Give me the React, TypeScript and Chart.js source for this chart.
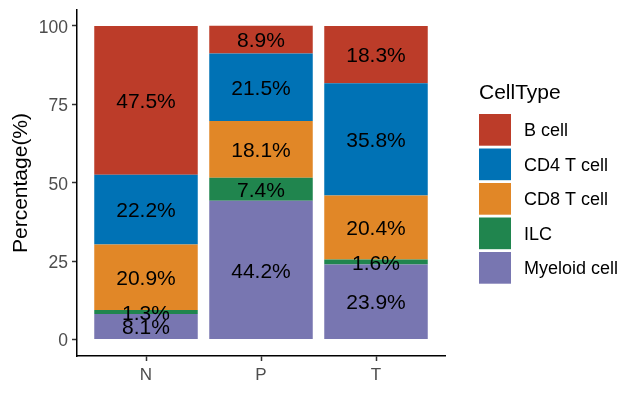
import React, { useEffect, useRef } from "react";
import { Chart, registerables } from "chart.js";

Chart.register(...registerables);

const FONT = '"Liberation Sans", Arial, sans-serif';

const categories = ["N", "P", "T"];
const cellTypes = ["Myeloid cell", "ILC", "CD8 T cell", "CD4 T cell", "B cell"];
const myeloid = [8.1, 44.2, 23.9];
const ilc = [1.3, 7.4, 1.6];
const cd8 = [20.9, 18.1, 20.4];
const cd4 = [22.2, 21.5, 35.8];
const bcell = [47.5, 8.9, 18.3];
const colors = ["#7876B1", "#20854E", "#E18727", "#0072B5", "#BC3C29"];
const yTicks = [0, 25, 50, 75, 100];
const seriesValues = [myeloid, ilc, cd8, cd4, bcell];

const valueLabels = {
  id: "valueLabels",
  afterDatasetsDraw(chart: any) {
    const ctx = chart.ctx;
    ctx.save();
    ctx.font = `21px ${FONT}`;
    ctx.fillStyle = "#000000";
    ctx.textAlign = "center";
    ctx.textBaseline = "middle";
    chart.data.datasets.forEach((ds: any, i: number) => {
      const meta = chart.getDatasetMeta(i);
      meta.data.forEach((el: any, j: number) => {
        const v = ds.data[j].y as number;
        const p = el.getProps(["x", "y", "base"], true);
        ctx.fillText(v.toFixed(1) + "%", p.x, (p.y + p.base) / 2 + 2);
      });
    });
    ctx.restore();
  },
};

const sideLegend = {
  id: "sideLegend",
  afterDraw(chart: any, _args: any, opts: any) {
    const ctx = chart.ctx;
    ctx.save();
    ctx.textAlign = "left";
    ctx.textBaseline = "middle";
    ctx.fillStyle = "#000000";
    ctx.font = `21px ${FONT}`;
    ctx.fillText(opts.title, opts.x, opts.titleY);
    const items = chart.data.datasets
      .map((d: any) => ({ label: d.label, color: d.backgroundColor }))
      .reverse();
    items.forEach((it: any, k: number) => {
      const top = opts.top + k * opts.pitch;
      ctx.fillStyle = it.color;
      ctx.fillRect(opts.x, top, opts.boxW, opts.boxH);
      ctx.fillStyle = "#000000";
      ctx.font = `18px ${FONT}`;
      ctx.fillText(it.label, opts.textX, top + opts.boxH / 2 + 1.5);
    });
    ctx.restore();
  },
};

export default function App() {
  const canvasRef = useRef<HTMLCanvasElement | null>(null);

  useEffect(() => {
    if (!canvasRef.current) return;
    Chart.defaults.font.family = FONT;
    const datasets = cellTypes.map((name, i) => ({
      label: name,
      data: categories.map((_, j) => ({ x: j + 1, y: seriesValues[i][j] })),
      backgroundColor: colors[i],
      borderWidth: 0,
      categoryPercentage: 0.9,
      barPercentage: 1,
    }));
    const chart = new Chart(canvasRef.current, {
      type: "bar",
      data: { datasets },
      plugins: [valueLabels, sideLegend],
      options: {
        responsive: false,
        animation: false,
        devicePixelRatio: 1,
        layout: { padding: { left: 0, right: 195, top: 10, bottom: 0 } },
        scales: {
          x: {
            type: "linear",
            min: 0.4,
            max: 3.6,
            offset: false,
            stacked: true,
            afterBuildTicks: (s: any) => {
              s.ticks = categories.map((_, i) => ({ value: i + 1 }));
            },
            afterFit: (s: any) => {
              s.height = 39;
              s.paddingLeft = 0;
              s.paddingRight = 0;
              s.paddingTop = 0;
              s.paddingBottom = 0;
            },
            ticks: {
              autoSkip: false,
              maxRotation: 0,
              padding: 4,
              color: "#4D4D4D",
              font: { size: 17, family: FONT },
              callback: (v: any) => categories[Math.round(Number(v)) - 1] ?? "",
            },
            grid: {
              display: true,
              offset: false,
              drawOnChartArea: false,
              drawTicks: true,
              tickLength: 5,
              tickColor: "#333333",
              tickWidth: 1.5,
            },
            border: { display: true, color: "#000000", width: 1.5 },
          },
          y: {
            type: "linear",
            min: -5.3,
            max: 105.1,
            stacked: true,
            afterBuildTicks: (s: any) => {
              s.ticks = yTicks.map((v) => ({ value: v }));
            },
            afterFit: (s: any) => {
              s.width = 77;
              s.paddingLeft = 0;
              s.paddingRight = 0;
              s.paddingTop = 0;
              s.paddingBottom = 0;
            },
            ticks: {
              padding: 4,
              labelOffset: 2,
              color: "#4D4D4D",
              font: { size: 17.5, family: FONT },
              callback: (v: any) => String(v),
            },
            grid: {
              display: true,
              drawOnChartArea: false,
              drawTicks: true,
              tickLength: 5,
              tickColor: "#333333",
              tickWidth: 1.5,
            },
            border: { display: true, color: "#000000", width: 1.5 },
            title: {
              display: true,
              text: "Percentage(%)",
              color: "#000000",
              font: { size: 21, family: FONT },
              padding: { top: 8.5, bottom: 0 },
            },
          },
        },
        plugins: {
          legend: { display: false },
          tooltip: { enabled: false },
          sideLegend: {
            title: "CellType",
            x: 479,
            titleY: 93,
            top: 114,
            pitch: 34.5,
            boxW: 32,
            boxH: 31.7,
            textX: 524,
          },
        } as any,
      },
    } as any);
    return () => chart.destroy();
  }, []);

  return (
    <div style={{ position: "absolute", left: 0, top: 0, width: 640, height: 395, background: "#ffffff" }}>
      <canvas ref={canvasRef} width={640} height={395} />
    </div>
  );
}
